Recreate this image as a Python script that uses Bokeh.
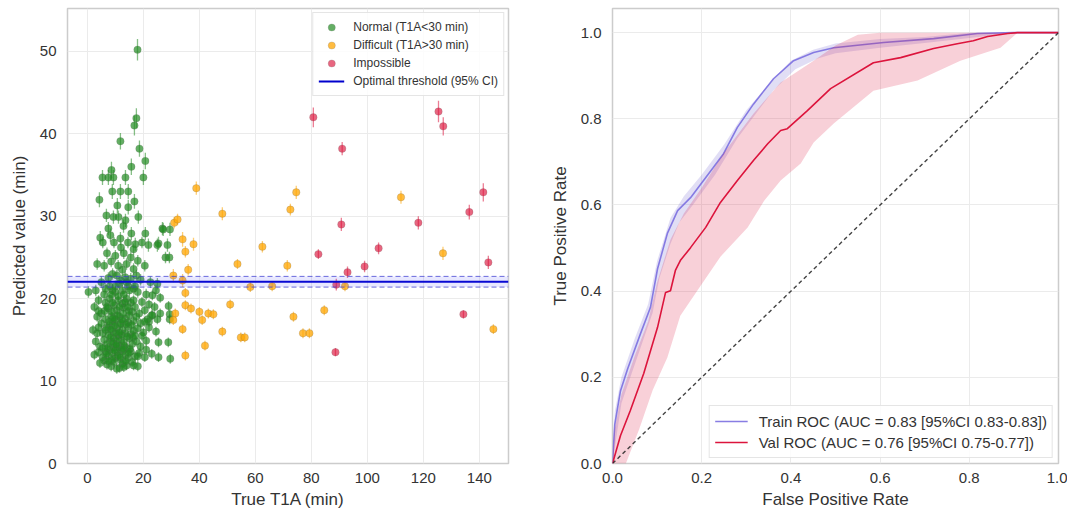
from bokeh.plotting import figure
from bokeh.layouts import row
from bokeh.models import (Range1d, Legend, LegendItem, FixedTicker, Span, BoxAnnotation,
                          CustomJSTickFormatter)
from bokeh.embed import file_html
from bokeh.resources import INLINE

# ---------------- data: left panel (x = true T1A, y = predicted, e = error) ----------------
normal_pts = [
    (17.9, 50.2, 1.3), (17.5, 41.9, 1.2), (16.8, 41.0, 1.2), (11.8, 39.1, 1.0), (18.6, 38.2, 1.0),
    (20.7, 36.7, 1.0), (15.7, 36.0, 1.0), (8.6, 35.6, 1.0), (5.4, 34.7, 0.9), (7.5, 34.7, 0.9),
    (9.3, 34.7, 0.9), (13.6, 34.7, 0.9), (20.0, 34.7, 0.9), (8.9, 33.0, 0.9), (11.8, 33.0, 0.9),
    (14.6, 33.0, 0.9), (4.3, 32.0, 0.9), (16.8, 31.8, 0.9), (10.7, 31.3, 0.9), (14.6, 31.1, 0.9),
    (6.8, 30.1, 0.8), (9.3, 29.9, 0.8), (11.1, 29.9, 0.8), (18.2, 29.9, 0.8), (13.6, 29.5, 0.8),
    (12.9, 28.8, 0.8), (7.5, 28.5, 0.8), (26.8, 28.5, 0.8), (27.1, 28.4, 0.8), (29.5, 28.4, 0.8),
    (15.7, 27.9, 0.8), (20.7, 27.9, 0.8), (8.2, 27.7, 0.8), (4.6, 27.4, 0.8), (11.8, 27.3, 0.8),
    (17.1, 26.6, 0.8), (21.8, 26.5, 0.8), (25.4, 26.7, 0.8), (28.6, 26.5, 0.8), (25.0, 26.5, 0.8),
    (27.9, 25.0, 0.7), (29.3, 25.0, 0.7),
    (5.5, 26.8, 0.7), (9.5, 26.8, 0.7), (12.0, 26.2, 0.7), (14.5, 26.8, 0.7), (16.5, 26.0, 0.7),
    (19.5, 26.8, 0.7), (7.0, 25.5, 0.7), (10.0, 25.2, 0.7), (13.0, 25.5, 0.7), (15.5, 25.0, 0.7),
    (18.0, 24.6, 0.7), (3.5, 24.2, 0.7), (6.0, 24.0, 0.7), (8.5, 24.5, 0.7), (11.0, 24.0, 0.7),
    (12.5, 23.5, 0.7), (14.0, 24.2, 0.7), (16.5, 23.6, 0.7), (20.5, 24.0, 0.7), (9.0, 23.0, 0.7),
    (10.5, 22.8, 0.7), (13.5, 22.6, 0.7), (15.5, 22.4, 0.7), (17.5, 22.8, 0.7), (7.5, 22.5, 0.7),
    (5.0, 22.0, 0.7), (19.0, 22.3, 0.7), (22.5, 22.0, 0.7), (11.5, 21.8, 0.7), (8.0, 21.5, 0.7),
    (14.5, 21.5, 0.7), (16.5, 21.2, 0.7), (12.5, 21.0, 0.7), (10.0, 20.8, 0.7), (0.4, 20.8, 0.7),
    (3.0, 21.0, 0.7), (6.0, 20.5, 0.7), (18.0, 20.8, 0.7), (21.0, 20.5, 0.7), (24.5, 21.0, 0.7),
    (25.0, 21.8, 0.7), (23.2, 20.4, 0.6), (26.0, 20.1, 0.6), (29.0, 19.1, 0.6), (26.0, 18.2, 0.6),
    (23.2, 18.0, 0.6), (29.4, 18.1, 0.6), (29.4, 17.5, 0.6), (25.0, 17.5, 0.6), (22.0, 17.2, 0.6),
    (4.0, 19.8, 0.6), (6.5, 19.5, 0.6), (8.0, 20.0, 0.6), (9.5, 19.2, 0.6), (11.0, 19.8, 0.6),
    (12.5, 19.4, 0.6), (14.0, 20.0, 0.6), (15.5, 19.5, 0.6), (17.0, 19.0, 0.6), (19.5, 19.6, 0.6),
    (22.0, 19.3, 0.6), (2.5, 19.0, 0.6), (7.5, 18.8, 0.6), (10.5, 18.6, 0.6), (13.0, 18.9, 0.6),
    (16.0, 18.4, 0.6), (18.5, 18.2, 0.6), (20.5, 18.6, 0.6), (24.0, 19.0, 0.6),
    (3.5, 17.8, 0.6), (5.0, 18.2, 0.6), (6.5, 17.5, 0.6), (8.5, 17.9, 0.6), (9.5, 17.2, 0.6),
    (11.5, 17.8, 0.6), (12.0, 17.0, 0.6), (13.5, 17.6, 0.6), (14.5, 17.1, 0.6), (15.0, 18.0, 0.6),
    (16.5, 17.3, 0.6), (17.5, 17.8, 0.6), (19.0, 17.0, 0.6), (21.5, 17.5, 0.6), (23.0, 18.0, 0.6),
    (8.0, 16.8, 0.6), (10.0, 17.5, 0.6), (7.0, 16.5, 0.6),
    (2.0, 16.2, 0.6), (4.0, 16.5, 0.6), (5.5, 15.8, 0.6), (6.5, 16.2, 0.6), (7.5, 15.6, 0.6),
    (9.0, 16.0, 0.6), (10.5, 16.4, 0.6), (11.0, 15.5, 0.6), (12.5, 16.2, 0.6), (13.5, 15.8, 0.6),
    (14.5, 16.6, 0.6), (15.5, 15.7, 0.6), (16.5, 16.1, 0.6), (18.0, 16.4, 0.6), (20.0, 15.9, 0.6),
    (22.0, 16.5, 0.6), (24.5, 16.0, 0.6), (9.5, 15.2, 0.6), (12.0, 15.0, 0.6),
    (3.0, 14.8, 0.6), (4.5, 14.2, 0.6), (6.0, 15.0, 0.6), (7.0, 14.5, 0.6), (8.5, 14.8, 0.6),
    (9.5, 14.1, 0.6), (10.5, 14.9, 0.6), (11.5, 14.3, 0.6), (13.0, 14.7, 0.6), (14.0, 14.0, 0.6),
    (15.0, 15.2, 0.6), (16.0, 14.5, 0.6), (17.5, 14.8, 0.6), (19.0, 14.2, 0.6), (21.0, 14.9, 0.6),
    (25.4, 14.7, 0.6), (28.9, 14.7, 0.6), (8.0, 13.8, 0.6), (12.5, 13.6, 0.6),
    (2.5, 13.2, 0.6), (4.0, 13.5, 0.6), (5.5, 12.9, 0.6), (6.5, 13.6, 0.6), (7.5, 13.0, 0.6),
    (9.0, 13.4, 0.6), (10.0, 12.8, 0.6), (11.0, 13.5, 0.6), (12.0, 12.6, 0.6), (13.5, 13.2, 0.6),
    (14.5, 12.8, 0.6), (15.5, 13.6, 0.6), (17.0, 13.0, 0.6), (18.5, 13.4, 0.6), (20.5, 12.9, 0.6),
    (23.0, 13.3, 0.6), (25.4, 12.9, 0.6), (29.6, 12.7, 0.6), (6.0, 12.5, 0.6),
    (4.5, 12.2, 0.6), (7.0, 12.0, 0.6), (8.5, 11.8, 0.6), (9.5, 12.3, 0.6), (11.5, 11.6, 0.6),
    (12.5, 12.1, 0.6), (14.0, 11.9, 0.6), (16.0, 12.3, 0.6), (18.0, 11.8, 0.6), (10.5, 11.5, 0.6),
    (13.0, 11.7, 0.6),
    (6.2, 18.5, 0.6), (7.8, 17.2, 0.6), (8.8, 18.4, 0.6), (9.8, 16.7, 0.6), (10.8, 18.0, 0.6),
    (11.8, 16.9, 0.6), (12.8, 18.2, 0.6), (13.8, 16.9, 0.6), (14.8, 18.5, 0.6), (15.8, 16.8, 0.6),
    (7.2, 14.0, 0.6), (8.2, 15.3, 0.6), (9.2, 14.6, 0.6), (10.2, 15.8, 0.6), (11.2, 14.0, 0.6),
    (12.2, 15.6, 0.6), (13.2, 14.3, 0.6), (14.2, 15.4, 0.6), (15.2, 13.9, 0.6), (16.2, 15.3, 0.6),
    (6.8, 13.3, 0.6), (8.8, 12.6, 0.6), (10.8, 13.1, 0.6), (12.8, 13.9, 0.6), (14.8, 13.4, 0.6),
    (9.0, 19.5, 0.6), (11.5, 19.0, 0.6), (13.5, 19.6, 0.6), (7.0, 19.0, 0.6), (16.5, 19.8, 0.6),
    (10.0, 21.5, 0.7), (12.0, 22.2, 0.7), (13.0, 20.5, 0.7), (9.0, 21.0, 0.7), (15.0, 21.0, 0.7),
    (11.0, 20.3, 0.7), (8.5, 20.5, 0.7), (14.0, 22.0, 0.7), (6.5, 21.2, 0.7), (17.0, 21.5, 0.7),
    (5.0, 17.0, 0.6), (5.5, 14.0, 0.6), (17.0, 15.5, 0.6), (18.0, 13.0, 0.6), (19.5, 15.5, 0.6),
    (20.5, 17.2, 0.6), (3.5, 15.8, 0.6), (4.0, 18.5, 0.6), (21.0, 13.8, 0.6), (16.5, 11.9, 0.6),
    (7.6, 12.4, 0.6), (9.7, 13.7, 0.6), (11.7, 12.9, 0.6), (13.7, 12.4, 0.6), (10.3, 14.4, 0.6),
    (8.4, 16.3, 0.6), (12.4, 17.4, 0.6), (14.4, 19.0, 0.6), (9.1, 17.6, 0.6), (11.4, 15.9, 0.6),
]

difficult_pts = [
    (38.9, 33.4, 0.8), (48.2, 30.3, 0.8), (74.6, 32.9, 0.8), (72.5, 30.8, 0.7), (31.0, 29.2, 0.7),
    (32.2, 29.6, 0.7), (34.0, 27.2, 0.9), (37.9, 26.6, 0.8), (35.0, 25.7, 0.7), (62.5, 26.3, 0.7),
    (36.0, 23.5, 0.7), (53.6, 24.2, 0.6), (71.4, 24.0, 0.7), (30.7, 22.8, 0.8), (34.0, 22.2, 0.8),
    (58.2, 21.4, 0.6), (66.0, 21.5, 0.6), (35.0, 20.7, 0.6), (51.0, 19.3, 0.6), (35.0, 19.2, 0.6),
    (37.0, 18.8, 0.6), (40.0, 18.4, 0.6), (43.2, 18.2, 0.6), (45.0, 18.1, 0.6), (31.4, 18.2, 0.6),
    (30.7, 17.4, 0.6), (41.0, 17.4, 0.6), (73.6, 17.8, 0.6), (34.0, 16.3, 0.6), (48.2, 16.0, 0.6),
    (54.8, 15.3, 0.6), (56.2, 15.3, 0.6), (42.0, 14.3, 0.6), (35.0, 13.1, 0.6), (112.0, 32.3, 0.8),
    (127.0, 25.5, 0.8), (92.0, 21.5, 0.6), (84.6, 18.6, 0.6), (77.0, 15.8, 0.6), (79.3, 15.8, 0.6),
    (145.0, 16.3, 0.6),
]

impossible_pts = [
    (80.7, 42.0, 1.2), (91.0, 38.2, 0.8), (125.4, 42.7, 1.3), (127.1, 40.9, 1.1), (141.4, 32.9, 1.1),
    (136.4, 30.5, 0.9), (90.7, 29.0, 0.8), (118.2, 29.2, 0.8), (82.5, 25.4, 0.6), (104.0, 26.1, 0.7),
    (99.0, 23.9, 0.7), (92.9, 23.2, 0.7), (143.2, 24.4, 0.8), (88.9, 21.7, 0.7), (134.3, 18.1, 0.5),
    (88.6, 13.5, 0.5),
]

threshold = 22.05
threshold_ci = (21.4, 22.7)

left_xlim = (-7.1, 150.4)
left_ylim = (0, 55.2)
left_xticks = [0, 20, 40, 60, 80, 100, 120, 140]
left_yticks = [0, 10, 20, 30, 40, 50]

# ---------------- data: right panel (ROC) ----------------
train_fpr = [0, 0.005, 0.018, 0.034, 0.063, 0.085, 0.101, 0.123, 0.146, 0.175, 0.226, 0.249,
             0.28, 0.316, 0.361, 0.406, 0.451, 0.496, 0.608, 0.72, 0.818, 0.9, 1.0]
train_tpr = [0, 0.09, 0.169, 0.22, 0.302, 0.362, 0.452, 0.534, 0.587, 0.617, 0.687, 0.719,
             0.78, 0.834, 0.893, 0.935, 0.954, 0.965, 0.977, 0.986, 0.998, 1.0, 1.0]

train_up_fpr = [0, 0.005, 0.02, 0.05, 0.08, 0.1, 0.13, 0.16, 0.2, 0.25, 0.3, 0.35, 0.4, 0.45,
                0.5, 0.6, 0.7, 0.8, 1.0]
train_up_tpr = [0, 0.12, 0.2, 0.29, 0.37, 0.47, 0.57, 0.62, 0.67, 0.74, 0.82, 0.88, 0.935, 0.96,
                0.975, 0.985, 0.99, 1.0, 1.0]
train_lo_fpr = [0, 0.01, 0.02, 0.04, 0.07, 0.09, 0.105, 0.13, 0.15, 0.18, 0.23, 0.28, 0.32, 0.36,
                0.41, 0.46, 0.5, 0.6, 0.72, 0.82, 0.9, 1.0]
train_lo_tpr = [0, 0.07, 0.14, 0.2, 0.29, 0.35, 0.43, 0.51, 0.56, 0.6, 0.67, 0.755, 0.81, 0.865,
                0.915, 0.94, 0.952, 0.965, 0.978, 0.99, 1.0, 1.0]

val_fpr = [0, 0.002, 0.018, 0.04, 0.07, 0.101, 0.119, 0.13, 0.141, 0.152, 0.175, 0.209, 0.242,
           0.28, 0.316, 0.348, 0.377, 0.392, 0.437, 0.489, 0.585, 0.646, 0.72, 0.773, 0.809,
           0.841, 0.886, 0.908, 1.0]
val_tpr = [0, 0.007, 0.065, 0.123, 0.209, 0.316, 0.397, 0.401, 0.448, 0.471, 0.501, 0.548, 0.606,
           0.657, 0.703, 0.742, 0.773, 0.777, 0.819, 0.870, 0.930, 0.942, 0.963, 0.974, 0.981,
           0.991, 0.998, 1.0, 1.0]

val_up_fpr = [0, 0.005, 0.02, 0.05, 0.08, 0.1, 0.13, 0.16, 0.2, 0.249, 0.316, 0.377, 0.451, 0.5,
              0.55, 0.6, 1.0]
val_up_tpr = [0, 0.08, 0.16, 0.25, 0.33, 0.42, 0.52, 0.58, 0.64, 0.72, 0.812, 0.884, 0.935, 0.97,
              0.995, 1.0, 1.0]
val_lo_fpr = [0, 0.03, 0.06, 0.09, 0.123, 0.152, 0.19, 0.242, 0.303, 0.34, 0.377, 0.422, 0.451,
              0.496, 0.585, 0.684, 0.78, 0.87, 0.908, 1.0]
val_lo_tpr = [0, 0.0, 0.08, 0.17, 0.246, 0.343, 0.401, 0.48, 0.548, 0.61, 0.657, 0.696, 0.745,
              0.789, 0.865, 0.889, 0.935, 0.965, 1.0, 1.0]

chance_line = [0, 1]
right_ticks = [0.0, 0.2, 0.4, 0.6, 0.8, 1.0]

train_label = "Train ROC (AUC = 0.83 [95%CI 0.83-0.83])"
val_label = "Val ROC (AUC = 0.76 [95%CI 0.75-0.77])"

FONT = "Liberation Sans"
TXT = "#333333"


def style(p):
    p.outline_line_color = "#cccccc"
    p.outline_line_width = 1.5
    p.background_fill_color = "white"
    p.border_fill_color = "white"
    for ax in p.axis:
        ax.axis_line_color = None
        ax.major_tick_line_color = None
        ax.minor_tick_line_color = None
        ax.major_tick_out = 0
        ax.major_tick_in = 0
        ax.major_label_text_font = FONT
        ax.major_label_text_font_size = "15px"
        ax.major_label_text_color = TXT
        ax.axis_label_text_font = FONT
        ax.axis_label_text_font_size = "17px"
        ax.axis_label_text_font_style = "normal"
        ax.axis_label_text_color = TXT
    p.xaxis.major_label_standoff = 9
    p.yaxis.major_label_standoff = 11
    p.xaxis.axis_label_standoff = 4
    p.yaxis.axis_label_standoff = 8
    p.grid.grid_line_color = "#ebebeb"
    p.grid.grid_line_width = 1


# ---------------- left figure ----------------
p1 = figure(width=545, height=512, output_backend="svg", toolbar_location=None,
            x_range=Range1d(*left_xlim), y_range=Range1d(*left_ylim),
            min_border_left=67, min_border_right=37, min_border_top=8, min_border_bottom=49)
style(p1)
p1.xaxis.axis_label = "True T1A (min)"
p1.yaxis.axis_label = "Predicted value (min)"
p1.xaxis.ticker = FixedTicker(ticks=left_xticks)
p1.yaxis.ticker = FixedTicker(ticks=left_yticks)

groups = [
    (normal_pts, "#228b22", 0.7, "Normal (T1A<30 min)"),
    (difficult_pts, "#ffa500", 0.75, "Difficult (T1A>30 min)"),
    (impossible_pts, "#dc143c", 0.65, "Impossible"),
]
legend_items = []
for pts, col, alpha, lab in groups:
    xs = [q[0] for q in pts]
    ys = [q[1] for q in pts]
    lo = [q[1] - q[2] for q in pts]
    hi = [q[1] + q[2] for q in pts]
    p1.segment(x0=xs, y0=lo, x1=xs, y1=hi, line_color=col, line_alpha=0.55, line_width=1.3)
    r = p1.scatter(x=xs, y=ys, size=7.5, fill_color=col, fill_alpha=alpha,
                   line_color="#666666", line_alpha=0.25, line_width=0.8)
    legend_items.append(LegendItem(label=lab, renderers=[r]))

p1.add_layout(BoxAnnotation(bottom=threshold_ci[0], top=threshold_ci[1],
                            fill_color="#4040ff", fill_alpha=0.12, line_color=None))
for v in threshold_ci:
    p1.add_layout(Span(location=v, dimension="width", line_color="#3a3ad0",
                       line_alpha=0.75, line_width=1, line_dash="5 3"))
thr = p1.line(x=list(left_xlim), y=[threshold, threshold], line_color="#0000cd", line_width=2)
legend_items.append(LegendItem(label="Optimal threshold (95% CI)", renderers=[thr]))

leg1 = Legend(items=legend_items, location="top_right", margin=4, padding=5,
              label_text_font=FONT, label_text_font_size="12px", label_text_color=TXT,
              glyph_width=26, glyph_height=18, spacing=0, label_standoff=9,
              label_height=15,
              background_fill_color="white", background_fill_alpha=0.85,
              border_line_color="#cccccc", border_line_width=1)
p1.add_layout(leg1)

# ---------------- right figure ----------------
p2 = figure(width=522, height=512, output_backend="svg", toolbar_location=None,
            x_range=Range1d(0, 1), y_range=Range1d(0, 1.056),
            min_border_left=67, min_border_right=9, min_border_top=8, min_border_bottom=49)
style(p2)
p2.xaxis.axis_label = "False Positive Rate"
p2.yaxis.axis_label = "True Positive Rate"
p2.xaxis.ticker = FixedTicker(ticks=right_ticks)
p2.yaxis.ticker = FixedTicker(ticks=right_ticks)
p2.xaxis.formatter = CustomJSTickFormatter(code="return tick.toFixed(1);")
p2.yaxis.formatter = CustomJSTickFormatter(code="return tick.toFixed(1);")

p2.patch(x=train_lo_fpr + train_up_fpr[::-1], y=train_lo_tpr + train_up_tpr[::-1],
         fill_color="#6a5acd", fill_alpha=0.2, line_color=None)
r_train = p2.line(x=train_fpr, y=train_tpr, line_color="#7b6fe0", line_width=1.6, line_alpha=0.9)
p2.patch(x=val_lo_fpr + val_up_fpr[::-1], y=val_lo_tpr + val_up_tpr[::-1],
         fill_color="#dc143c", fill_alpha=0.2, line_color=None)
r_val = p2.line(x=val_fpr, y=val_tpr, line_color="#dc143c", line_width=1.6)
p2.line(x=chance_line, y=chance_line, line_color="#222222", line_width=1.4, line_dash="4 3",
        line_alpha=0.85)

leg2 = Legend(items=[LegendItem(label=train_label, renderers=[r_train]),
                     LegendItem(label=val_label, renderers=[r_val])],
              location="bottom_right", margin=5, padding=5,
              label_text_font=FONT, label_text_font_size="15px", label_text_color=TXT,
              glyph_width=33, glyph_height=20, spacing=1, label_standoff=11,
              background_fill_color="white", background_fill_alpha=0.85,
              border_line_color="#cccccc", border_line_width=1)
p2.add_layout(leg2)

layout = row(p1, p2)
open("out.html", "w").write(file_html(layout, INLINE))
